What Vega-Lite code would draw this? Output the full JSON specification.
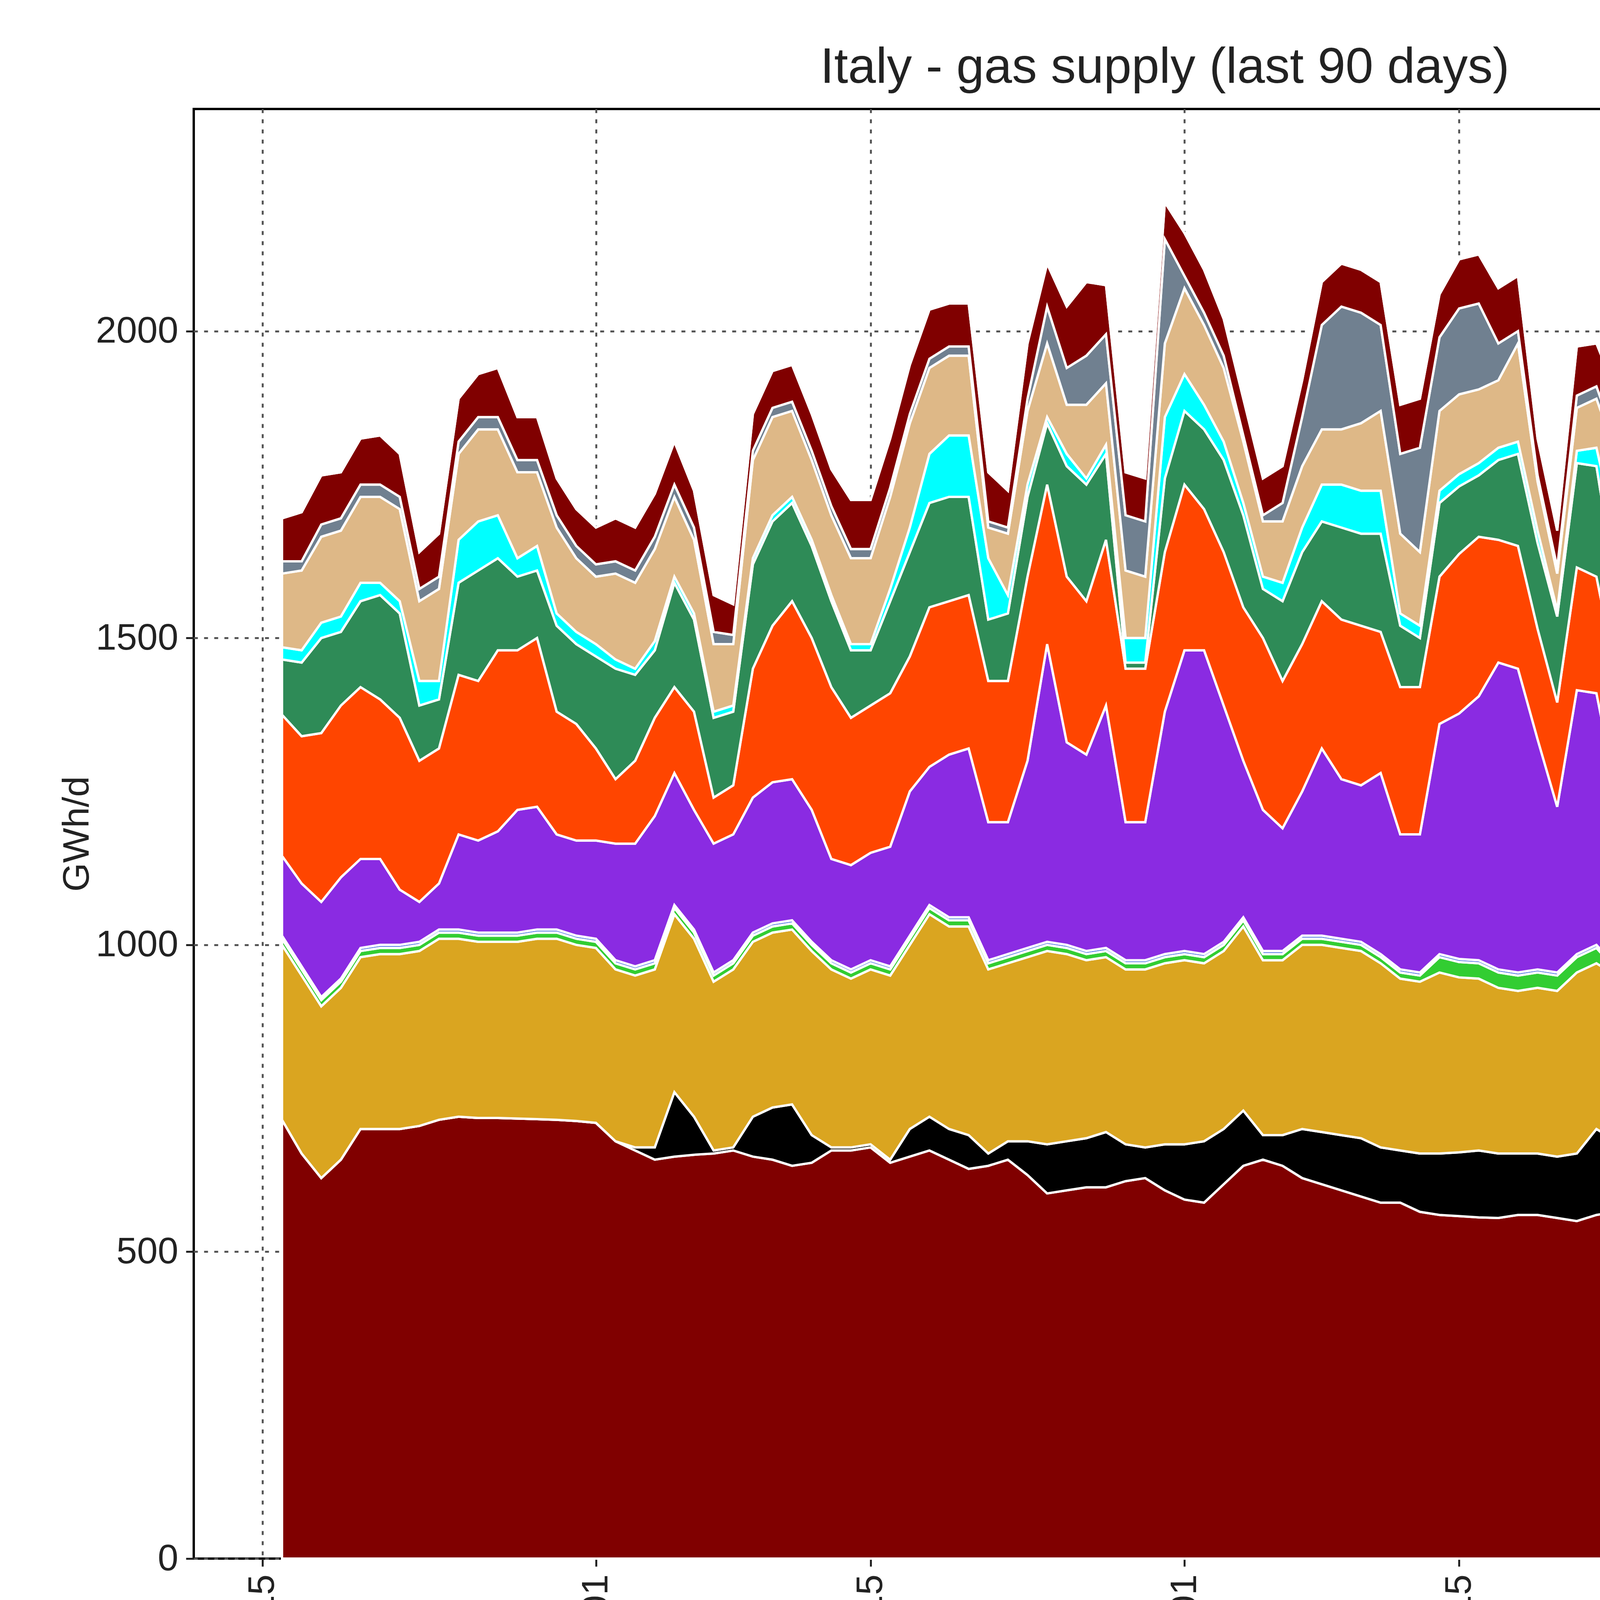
{
  "$schema": "https://vega.github.io/schema/vega-lite/v6.json",
  "width": 4972,
  "height": 3711,
  "padding": {"left": 150, "top": 110, "right": 40, "bottom": 40},
  "autosize": {"type": "pad"},
  "background": "white",
  "config": {
    "font": "Liberation Sans",
    "view": {"stroke": "black", "strokeWidth": 6}
  },
  "title": {"text": "Italy - gas supply (last 90 days)", "fontSize": 128, "fontWeight": "normal", "color": "#222", "offset": 40},
  "datasets": {
    "names": [
      {"k": "alg", "name": "Imports - Algeria", "o": 1},
      {"k": "aus", "name": "Imports - Austria", "o": 2},
      {"k": "gre", "name": "Imports - Greece", "o": 3},
      {"k": "lib", "name": "Imports - Libya", "o": 4},
      {"k": "slo", "name": "Imports - Slovenia", "o": 5},
      {"k": "swi", "name": "Imports - Switzerland", "o": 6},
      {"k": "adr", "name": "LNG - Adriatic LNG", "o": 7},
      {"k": "olt", "name": "LNG - OLT FSRU", "o": 8},
      {"k": "pan", "name": "LNG - Panigaglia", "o": 9},
      {"k": "pio", "name": "LNG - Piombino FSRU", "o": 10},
      {"k": "rav", "name": "LNG - Ravenna FSRU", "o": 11},
      {"k": "pro", "name": "Production", "o": 12},
      {"k": "sto", "name": "Storage withdrawals", "o": 13}
    ]
  },
  "data": {"values": [
    {"d":"2026-05-16","alg":715,"aus":0,"gre":285,"lib":10,"slo":5,"swi":130,"adr":230,"olt":90,"pan":20,"pio":120,"rav":20,"pro":70,"sto":0},
    {"d":"2026-05-17","alg":660,"aus":0,"gre":290,"lib":10,"slo":5,"swi":135,"adr":240,"olt":120,"pan":20,"pio":130,"rav":15,"pro":80,"sto":0},
    {"d":"2026-05-18","alg":620,"aus":0,"gre":280,"lib":10,"slo":5,"swi":155,"adr":275,"olt":155,"pan":25,"pio":140,"rav":20,"pro":80,"sto":0},
    {"d":"2026-05-19","alg":650,"aus":0,"gre":280,"lib":10,"slo":5,"swi":165,"adr":280,"olt":120,"pan":25,"pio":140,"rav":20,"pro":75,"sto":0},
    {"d":"2026-05-20","alg":700,"aus":0,"gre":280,"lib":10,"slo":5,"swi":145,"adr":280,"olt":140,"pan":30,"pio":140,"rav":20,"pro":75,"sto":0},
    {"d":"2026-05-21","alg":700,"aus":0,"gre":285,"lib":10,"slo":5,"swi":140,"adr":260,"olt":170,"pan":20,"pio":140,"rav":20,"pro":80,"sto":0},
    {"d":"2026-05-22","alg":700,"aus":0,"gre":285,"lib":10,"slo":5,"swi":90,"adr":280,"olt":170,"pan":20,"pio":150,"rav":20,"pro":70,"sto":0},
    {"d":"2026-05-23","alg":705,"aus":0,"gre":285,"lib":10,"slo":5,"swi":65,"adr":230,"olt":90,"pan":40,"pio":130,"rav":20,"pro":60,"sto":0},
    {"d":"2026-05-24","alg":715,"aus":0,"gre":295,"lib":10,"slo":5,"swi":75,"adr":220,"olt":80,"pan":30,"pio":150,"rav":20,"pro":70,"sto":0},
    {"d":"2026-05-25","alg":720,"aus":0,"gre":290,"lib":10,"slo":5,"swi":155,"adr":260,"olt":150,"pan":70,"pio":140,"rav":20,"pro":70,"sto":0},
    {"d":"2026-05-26","alg":718,"aus":0,"gre":287,"lib":10,"slo":5,"swi":150,"adr":260,"olt":180,"pan":80,"pio":150,"rav":20,"pro":70,"sto":0},
    {"d":"2026-05-27","alg":718,"aus":0,"gre":287,"lib":10,"slo":5,"swi":165,"adr":295,"olt":150,"pan":70,"pio":140,"rav":20,"pro":80,"sto":0},
    {"d":"2026-05-28","alg":717,"aus":0,"gre":288,"lib":10,"slo":5,"swi":200,"adr":260,"olt":120,"pan":30,"pio":140,"rav":20,"pro":70,"sto":0},
    {"d":"2026-05-29","alg":716,"aus":0,"gre":294,"lib":10,"slo":5,"swi":200,"adr":275,"olt":110,"pan":40,"pio":120,"rav":20,"pro":70,"sto":0},
    {"d":"2026-05-30","alg":715,"aus":0,"gre":295,"lib":10,"slo":5,"swi":155,"adr":200,"olt":140,"pan":20,"pio":140,"rav":20,"pro":60,"sto":0},
    {"d":"2026-05-31","alg":713,"aus":0,"gre":287,"lib":10,"slo":5,"swi":155,"adr":190,"olt":130,"pan":20,"pio":120,"rav":20,"pro":60,"sto":0},
    {"d":"2026-06-01","alg":710,"aus":0,"gre":285,"lib":10,"slo":5,"swi":160,"adr":150,"olt":150,"pan":20,"pio":110,"rav":20,"pro":60,"sto":0},
    {"d":"2026-06-02","alg":680,"aus":0,"gre":280,"lib":10,"slo":5,"swi":190,"adr":105,"olt":180,"pan":15,"pio":140,"rav":20,"pro":70,"sto":0},
    {"d":"2026-06-03","alg":665,"aus":5,"gre":280,"lib":10,"slo":5,"swi":200,"adr":135,"olt":140,"pan":10,"pio":140,"rav":20,"pro":70,"sto":0},
    {"d":"2026-06-04","alg":650,"aus":20,"gre":290,"lib":10,"slo":5,"swi":235,"adr":160,"olt":110,"pan":15,"pio":150,"rav":20,"pro":70,"sto":0},
    {"d":"2026-06-05","alg":655,"aus":105,"gre":290,"lib":10,"slo":5,"swi":215,"adr":140,"olt":170,"pan":10,"pio":130,"rav":20,"pro":70,"sto":0},
    {"d":"2026-06-06","alg":658,"aus":62,"gre":290,"lib":10,"slo":5,"swi":195,"adr":160,"olt":150,"pan":10,"pio":120,"rav":20,"pro":60,"sto":0},
    {"d":"2026-06-07","alg":660,"aus":5,"gre":275,"lib":10,"slo":5,"swi":210,"adr":75,"olt":130,"pan":10,"pio":110,"rav":20,"pro":60,"sto":0},
    {"d":"2026-06-08","alg":665,"aus":5,"gre":290,"lib":10,"slo":5,"swi":205,"adr":80,"olt":120,"pan":10,"pio":100,"rav":15,"pro":50,"sto":0},
    {"d":"2026-06-09","alg":655,"aus":65,"gre":285,"lib":10,"slo":5,"swi":220,"adr":210,"olt":170,"pan":10,"pio":160,"rav":15,"pro":60,"sto":0},
    {"d":"2026-06-10","alg":650,"aus":85,"gre":285,"lib":10,"slo":5,"swi":230,"adr":255,"olt":170,"pan":10,"pio":160,"rav":15,"pro":60,"sto":0},
    {"d":"2026-06-11","alg":640,"aus":100,"gre":285,"lib":10,"slo":5,"swi":230,"adr":290,"olt":160,"pan":10,"pio":140,"rav":15,"pro":60,"sto":0},
    {"d":"2026-06-12","alg":645,"aus":45,"gre":300,"lib":10,"slo":5,"swi":215,"adr":280,"olt":150,"pan":10,"pio":130,"rav":15,"pro":60,"sto":0},
    {"d":"2026-06-13","alg":665,"aus":5,"gre":290,"lib":10,"slo":5,"swi":165,"adr":280,"olt":140,"pan":10,"pio":130,"rav":15,"pro":60,"sto":0},
    {"d":"2026-06-14","alg":665,"aus":5,"gre":275,"lib":10,"slo":5,"swi":170,"adr":240,"olt":110,"pan":10,"pio":140,"rav":15,"pro":80,"sto":0},
    {"d":"2026-06-15","alg":670,"aus":5,"gre":285,"lib":10,"slo":5,"swi":175,"adr":240,"olt":90,"pan":10,"pio":140,"rav":15,"pro":80,"sto":0},
    {"d":"2026-06-16","alg":645,"aus":5,"gre":300,"lib":10,"slo":5,"swi":195,"adr":250,"olt":150,"pan":20,"pio":150,"rav":15,"pro":80,"sto":0},
    {"d":"2026-06-17","alg":655,"aus":45,"gre":300,"lib":10,"slo":5,"swi":235,"adr":220,"olt":170,"pan":40,"pio":170,"rav":15,"pro":80,"sto":0},
    {"d":"2026-06-18","alg":665,"aus":55,"gre":330,"lib":10,"slo":5,"swi":225,"adr":260,"olt":170,"pan":80,"pio":140,"rav":15,"pro":80,"sto":0},
    {"d":"2026-06-19","alg":650,"aus":50,"gre":330,"lib":10,"slo":5,"swi":265,"adr":250,"olt":170,"pan":100,"pio":130,"rav":15,"pro":70,"sto":0},
    {"d":"2026-06-20","alg":635,"aus":55,"gre":340,"lib":10,"slo":5,"swi":275,"adr":250,"olt":160,"pan":100,"pio":130,"rav":15,"pro":70,"sto":0},
    {"d":"2026-06-21","alg":640,"aus":20,"gre":300,"lib":10,"slo":5,"swi":225,"adr":230,"olt":100,"pan":100,"pio":50,"rav":10,"pro":80,"sto":0},
    {"d":"2026-06-22","alg":650,"aus":30,"gre":290,"lib":10,"slo":5,"swi":215,"adr":230,"olt":110,"pan":30,"pio":100,"rav":10,"pro":60,"sto":0},
    {"d":"2026-06-23","alg":625,"aus":55,"gre":300,"lib":10,"slo":5,"swi":305,"adr":300,"olt":130,"pan":20,"pio":120,"rav":20,"pro":90,"sto":0},
    {"d":"2026-06-24","alg":595,"aus":80,"gre":315,"lib":10,"slo":5,"swi":485,"adr":260,"olt":100,"pan":10,"pio":120,"rav":60,"pro":70,"sto":0},
    {"d":"2026-06-25","alg":600,"aus":80,"gre":305,"lib":10,"slo":5,"swi":330,"adr":270,"olt":180,"pan":20,"pio":80,"rav":60,"pro":100,"sto":0},
    {"d":"2026-06-26","alg":605,"aus":80,"gre":290,"lib":10,"slo":5,"swi":320,"adr":250,"olt":190,"pan":10,"pio":120,"rav":80,"pro":120,"sto":0},
    {"d":"2026-06-27","alg":605,"aus":90,"gre":285,"lib":10,"slo":5,"swi":395,"adr":270,"olt":140,"pan":15,"pio":100,"rav":80,"pro":80,"sto":0},
    {"d":"2026-06-28","alg":615,"aus":60,"gre":285,"lib":10,"slo":5,"swi":225,"adr":250,"olt":10,"pan":40,"pio":110,"rav":90,"pro":70,"sto":0},
    {"d":"2026-06-29","alg":620,"aus":50,"gre":290,"lib":10,"slo":5,"swi":225,"adr":250,"olt":10,"pan":40,"pio":100,"rav":90,"pro":70,"sto":0},
    {"d":"2026-06-30","alg":600,"aus":75,"gre":295,"lib":10,"slo":5,"swi":395,"adr":260,"olt":120,"pan":100,"pio":120,"rav":170,"pro":60,"sto":0},
    {"d":"2026-07-01","alg":585,"aus":90,"gre":300,"lib":10,"slo":5,"swi":490,"adr":270,"olt":120,"pan":60,"pio":140,"rav":20,"pro":70,"sto":0},
    {"d":"2026-07-02","alg":580,"aus":100,"gre":290,"lib":10,"slo":5,"swi":495,"adr":230,"olt":130,"pan":40,"pio":130,"rav":20,"pro":70,"sto":0},
    {"d":"2026-07-03","alg":610,"aus":90,"gre":290,"lib":10,"slo":5,"swi":385,"adr":250,"olt":150,"pan":30,"pio":120,"rav":20,"pro":60,"sto":0},
    {"d":"2026-07-04","alg":640,"aus":90,"gre":300,"lib":10,"slo":5,"swi":255,"adr":250,"olt":150,"pan":20,"pio":100,"rav":10,"pro":60,"sto":0},
    {"d":"2026-07-05","alg":650,"aus":40,"gre":285,"lib":10,"slo":5,"swi":230,"adr":280,"olt":80,"pan":20,"pio":90,"rav":10,"pro":60,"sto":0},
    {"d":"2026-07-06","alg":640,"aus":50,"gre":285,"lib":10,"slo":5,"swi":200,"adr":240,"olt":130,"pan":30,"pio":100,"rav":30,"pro":60,"sto":0},
    {"d":"2026-07-07","alg":620,"aus":80,"gre":300,"lib":10,"slo":5,"swi":235,"adr":240,"olt":150,"pan":40,"pio":100,"rav":80,"pro":60,"sto":0},
    {"d":"2026-07-08","alg":610,"aus":85,"gre":305,"lib":10,"slo":5,"swi":305,"adr":240,"olt":130,"pan":60,"pio":90,"rav":170,"pro":70,"sto":0},
    {"d":"2026-07-09","alg":600,"aus":90,"gre":305,"lib":10,"slo":5,"swi":260,"adr":260,"olt":150,"pan":70,"pio":90,"rav":200,"pro":70,"sto":0},
    {"d":"2026-07-10","alg":590,"aus":95,"gre":305,"lib":10,"slo":5,"swi":255,"adr":260,"olt":150,"pan":70,"pio":110,"rav":180,"pro":70,"sto":0},
    {"d":"2026-07-11","alg":580,"aus":90,"gre":300,"lib":10,"slo":5,"swi":295,"adr":230,"olt":160,"pan":70,"pio":130,"rav":140,"pro":70,"sto":0},
    {"d":"2026-07-12","alg":580,"aus":85,"gre":280,"lib":10,"slo":5,"swi":220,"adr":240,"olt":100,"pan":20,"pio":130,"rav":130,"pro":80,"sto":0},
    {"d":"2026-07-13","alg":565,"aus":95,"gre":280,"lib":10,"slo":5,"swi":225,"adr":240,"olt":80,"pan":20,"pio":120,"rav":170,"pro":80,"sto":0},
    {"d":"2026-07-14","alg":560,"aus":100,"gre":295,"lib":25,"slo":5,"swi":375,"adr":240,"olt":120,"pan":20,"pio":130,"rav":120,"pro":70,"sto":0},
    {"d":"2026-07-15","alg":558,"aus":104,"gre":285,"lib":25,"slo":5,"swi":400,"adr":260,"olt":110,"pan":20,"pio":130,"rav":140,"pro":80,"sto":0},
    {"d":"2026-07-16","alg":556,"aus":109,"gre":280,"lib":25,"slo":5,"swi":430,"adr":260,"olt":100,"pan":20,"pio":120,"rav":140,"pro":80,"sto":0},
    {"d":"2026-07-17","alg":555,"aus":105,"gre":270,"lib":25,"slo":5,"swi":500,"adr":200,"olt":130,"pan":20,"pio":110,"rav":60,"pro":90,"sto":0},
    {"d":"2026-07-18","alg":560,"aus":100,"gre":265,"lib":25,"slo":5,"swi":495,"adr":200,"olt":150,"pan":20,"pio":160,"rav":20,"pro":90,"sto":0},
    {"d":"2026-07-19","alg":560,"aus":100,"gre":270,"lib":25,"slo":5,"swi":375,"adr":180,"olt":140,"pan":20,"pio":80,"rav":10,"pro":60,"sto":0},
    {"d":"2026-07-20","alg":555,"aus":100,"gre":270,"lib":25,"slo":5,"swi":270,"adr":170,"olt":140,"pan":10,"pio":60,"rav":10,"pro":60,"sto":0},
    {"d":"2026-07-21","alg":550,"aus":110,"gre":295,"lib":25,"slo":5,"swi":430,"adr":200,"olt":170,"pan":20,"pio":70,"rav":20,"pro":80,"sto":0},
    {"d":"2026-07-22","alg":560,"aus":140,"gre":270,"lib":25,"slo":5,"swi":410,"adr":190,"olt":180,"pan":30,"pio":80,"rav":20,"pro":70,"sto":0},
    {"d":"2026-07-23","alg":565,"aus":115,"gre":270,"lib":10,"slo":5,"swi":285,"adr":190,"olt":140,"pan":90,"pio":130,"rav":20,"pro":80,"sto":0},
    {"d":"2026-07-24","alg":565,"aus":105,"gre":275,"lib":10,"slo":5,"swi":310,"adr":220,"olt":150,"pan":70,"pio":100,"rav":20,"pro":80,"sto":0},
    {"d":"2026-07-25","alg":565,"aus":95,"gre":270,"lib":10,"slo":5,"swi":225,"adr":220,"olt":140,"pan":30,"pio":120,"rav":20,"pro":70,"sto":0},
    {"d":"2026-07-26","alg":565,"aus":75,"gre":265,"lib":10,"slo":5,"swi":230,"adr":170,"olt":80,"pan":20,"pio":130,"rav":20,"pro":70,"sto":0},
    {"d":"2026-07-27","alg":560,"aus":80,"gre":260,"lib":10,"slo":5,"swi":265,"adr":170,"olt":40,"pan":20,"pio":170,"rav":20,"pro":70,"sto":0},
    {"d":"2026-07-28","alg":570,"aus":100,"gre":285,"lib":10,"slo":20,"swi":305,"adr":230,"olt":100,"pan":20,"pio":160,"rav":50,"pro":90,"sto":0},
    {"d":"2026-07-29","alg":580,"aus":105,"gre":280,"lib":10,"slo":25,"swi":375,"adr":210,"olt":90,"pan":20,"pio":140,"rav":110,"pro":100,"sto":0},
    {"d":"2026-07-30","alg":570,"aus":110,"gre":290,"lib":10,"slo":25,"swi":415,"adr":210,"olt":100,"pan":20,"pio":140,"rav":70,"pro":90,"sto":0},
    {"d":"2026-07-31","alg":565,"aus":105,"gre":295,"lib":10,"slo":25,"swi":425,"adr":220,"olt":110,"pan":30,"pio":150,"rav":60,"pro":70,"sto":0},
    {"d":"2026-08-01","alg":555,"aus":135,"gre":270,"lib":10,"slo":25,"swi":475,"adr":190,"olt":100,"pan":20,"pio":160,"rav":60,"pro":60,"sto":0},
    {"d":"2026-08-02","alg":560,"aus":70,"gre":280,"lib":10,"slo":15,"swi":165,"adr":170,"olt":170,"pan":10,"pio":150,"rav":20,"pro":70,"sto":0},
    {"d":"2026-08-03","alg":565,"aus":75,"gre":275,"lib":10,"slo":15,"swi":155,"adr":170,"olt":170,"pan":10,"pio":160,"rav":20,"pro":80,"sto":0},
    {"d":"2026-08-04","alg":545,"aus":135,"gre":265,"lib":10,"slo":5,"swi":185,"adr":190,"olt":200,"pan":10,"pio":130,"rav":10,"pro":80,"sto":0},
    {"d":"2026-08-05","alg":538,"aus":182,"gre":270,"lib":10,"slo":5,"swi":225,"adr":200,"olt":180,"pan":10,"pio":110,"rav":10,"pro":70,"sto":0},
    {"d":"2026-08-06","alg":535,"aus":305,"gre":280,"lib":10,"slo":20,"swi":200,"adr":260,"olt":120,"pan":10,"pio":120,"rav":10,"pro":60,"sto":0},
    {"d":"2026-08-07","alg":540,"aus":270,"gre":260,"lib":10,"slo":15,"swi":185,"adr":240,"olt":120,"pan":10,"pio":110,"rav":10,"pro":70,"sto":0},
    {"d":"2026-08-08","alg":555,"aus":95,"gre":245,"lib":10,"slo":5,"swi":255,"adr":190,"olt":100,"pan":10,"pio":120,"rav":10,"pro":60,"sto":0},
    {"d":"2026-08-09","alg":570,"aus":95,"gre":95,"lib":10,"slo":5,"swi":355,"adr":80,"olt":160,"pan":10,"pio":140,"rav":10,"pro":60,"sto":0},
    {"d":"2026-08-10","alg":575,"aus":90,"gre":175,"lib":10,"slo":5,"swi":265,"adr":100,"olt":150,"pan":10,"pio":140,"rav":10,"pro":70,"sto":0},
    {"d":"2026-08-11","alg":560,"aus":120,"gre":250,"lib":10,"slo":5,"swi":265,"adr":170,"olt":80,"pan":10,"pio":140,"rav":10,"pro":80,"sto":0},
    {"d":"2026-08-12","alg":535,"aus":95,"gre":200,"lib":10,"slo":15,"swi":215,"adr":240,"olt":100,"pan":10,"pio":150,"rav":30,"pro":80,"sto":0},
    {"d":"2026-08-13","alg":530,"aus":100,"gre":210,"lib":10,"slo":15,"swi":225,"adr":230,"olt":120,"pan":10,"pio":140,"rav":40,"pro":80,"sto":0},
    {"d":"2026-08-14","alg":540,"aus":90,"gre":220,"lib":10,"slo":15,"swi":200,"adr":225,"olt":90,"pan":10,"pio":140,"rav":30,"pro":70,"sto":0}
  ]},
  "transform": [
    {"fold": ["alg","aus","gre","lib","slo","swi","adr","olt","pan","pio","rav","pro","sto"], "as": ["k","v"]},
    {"lookup": "k", "from": {"data": {"name": "names"}, "key": "k", "fields": ["name","o"]}}
  ],
  "mark": {"type": "area", "stroke": "white", "strokeWidth": 6, "interpolate": "linear"},
  "encoding": {
    "x": {
      "field": "d", "type": "temporal",
      "scale": {"type": "utc", "domain": [1778500800000, 1787054400000]},
      "axis": {
        "title": null, "format": "%Y-%m-%d", "labelAngle": 270, "labelLimit": 2000,
        "values": [1778803200000, 1780272000000, 1781481600000, 1782864000000, 1784073600000, 1785542400000, 1786752000000],
        "labelFontSize": 95, "labelColor": "#222", "labelPadding": 20,
        "tickSize": 20, "tickWidth": 5, "tickColor": "#222", "domain": false,
        "grid": true, "gridDash": [10, 16], "gridColor": "#555", "gridWidth": 5, "gridOpacity": 1
      }
    },
    "y": {
      "field": "v", "type": "quantitative", "stack": "zero",
      "scale": {"domain": [0, 2362], "nice": false},
      "axis": {
        "title": "GWh/d", "titleFontSize": 95, "titleFontWeight": "normal", "titleColor": "#222", "titlePadding": 50,
        "values": [0, 500, 1000, 1500, 2000], "format": "d", "labelLimit": 1000,
        "labelFontSize": 95, "labelColor": "#222", "labelPadding": 20,
        "tickSize": 20, "tickWidth": 5, "tickColor": "#222", "domain": false,
        "grid": true, "gridDash": [10, 16], "gridColor": "#555", "gridWidth": 5, "gridOpacity": 1
      }
    },
    "order": {"field": "o", "type": "quantitative", "sort": "ascending"},
    "color": {
      "field": "name", "type": "nominal",
      "scale": {
        "domain": ["Imports - Algeria","Imports - Austria","Imports - Greece","Imports - Libya","Imports - Slovenia","Imports - Switzerland","LNG - Adriatic LNG","LNG - OLT FSRU","LNG - Panigaglia","LNG - Piombino FSRU","LNG - Ravenna FSRU","Production","Storage withdrawals"],
        "range": ["#800000","#000000","#DAA520","#32CD32","#4169E1","#8A2BE2","#FF4500","#2E8B57","#00FFFF","#DEB887","#708090","#800000","#000000"]
      },
      "legend": {
        "title": null, "orient": "none", "legendX": 73, "legendY": 4895,
        "columns": 2, "columnPadding": 220, "rowPadding": 80,
        "symbolType": "M-1,-0.27H1V0.27H-1Z", "symbolSize": 67600, "symbolStrokeWidth": 0,
        "labelFontSize": 112, "labelColor": "#222", "labelOffset": 90, "labelLimit": 3000,
        "fillColor": "white", "strokeColor": "#ccc", "cornerRadius": 15, "padding": 60,
        "encode": {"legend": {"update": {"strokeWidth": {"value": 5}}}}
      }
    }
  }
}
